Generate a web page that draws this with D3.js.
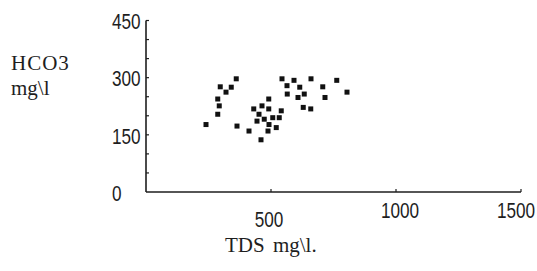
<!DOCTYPE html>
<html>
<head>
<meta charset="utf-8">
<script src="https://cdn.jsdelivr.net/npm/d3@7"></script>
<style>
  body { margin: 0; background: #fff; }
</style>
</head>
<body>
<svg id="chart" width="537" height="271"></svg>
<script>
// TDS (mg\l) and HCO3 (mg\l) of each sample
let tds = [240, 287, 293, 287, 297, 320, 341, 361, 364, 412, 431, 444, 452, 460, 464, 473, 491, 491, 492,
    488, 507, 521, 533, 541, 544, 564, 565, 592, 608, 615, 629, 633, 659, 660, 707, 716, 763, 804]
let hco3 = [177, 244, 226, 204, 276, 262, 275, 297, 173, 160, 218, 186, 204, 137, 226, 191, 244, 218, 177,
    160, 195, 169, 195, 213, 297, 279, 257, 293, 248, 275, 222, 257, 218, 297, 276, 248, 293, 262]
let xTickLabels = [500, 1000, 1500]
let yTickLabels = [0, 150, 300, 450]
let yMinorTicks = [50, 100, 150, 200, 250, 300, 350, 400, 450]

let svg = d3.select("#chart")
let ink = "#1e1e1e"
let numFont = "'Liberation Sans', Arial, sans-serif"
let textFont = "'Liberation Serif', 'DejaVu Serif', serif"

let x = d3.scaleLinear().domain([0, 1500]).range([146, 521])
let y = d3.scaleLinear().domain([0, 450]).range([192, 20.5])

// axis lines
svg.append("line")
    .attr("x1", x(0)).attr("x2", x(0))
    .attr("y1", y(450)).attr("y2", y(0))
    .style("stroke", ink).style("stroke-width", 1.6)
svg.append("line")
    .attr("x1", x(0)).attr("x2", x(1500))
    .attr("y1", y(0)).attr("y2", y(0))
    .style("stroke", ink).style("stroke-width", 1.6)

// small ticks, inside the plot
svg.selectAll(".yTick")
    .data(yMinorTicks)
    .enter()
    .append("line")
    .attr("class", "yTick")
    .attr("x1", x(0)).attr("x2", x(0) + 3)
    .attr("y1", d => y(d)).attr("y2", d => y(d))
    .style("stroke", ink).style("stroke-width", 1.2)
svg.selectAll(".xTick")
    .data(xTickLabels)
    .enter()
    .append("line")
    .attr("class", "xTick")
    .attr("x1", d => x(d)).attr("x2", d => x(d))
    .attr("y1", y(0)).attr("y2", y(0) - 3)
    .style("stroke", ink).style("stroke-width", 1.2)

// tick labels, squeezed to look like the narrow digits of the scan
svg.selectAll(".yLabel")
    .data(yTickLabels)
    .enter()
    .append("text")
    .attr("class", "yLabel")
    .text(d => d)
    .attr("transform", d => "translate(112," + y(d) + ") scale(0.78,1)")
    .attr("dy", "0.4em")
    .attr("text-anchor", "start")
    .style("fill", ink)
    .style("font-size", "22px")
    .style("font-family", numFont)

// the scan is a bit uneven, 500 sits lower than the others
svg.selectAll(".xLabel")
    .data(xTickLabels)
    .enter()
    .append("text")
    .attr("class", "xLabel")
    .text(d => d)
    .attr("transform", (d, i) => "translate(" + (x(d) - (i == 2 ? 5 : (i == 1 ? -4 : 2))) + ","
        + (y(0) + (i == 0 ? 35 : 26)) + ") scale(0.78,1)")
    .attr("text-anchor", "middle")
    .style("fill", ink)
    .style("font-size", "22px")
    .style("font-family", numFont)

// axis titles
svg.append("text")
    .text("HCO3")
    .attr("x", 11).attr("y", 70)
    .style("fill", ink)
    .style("font-size", "21px")
    .style("letter-spacing", "1px")
    .style("font-family", textFont)
svg.append("text")
    .text("mg\\l")
    .attr("x", 11).attr("y", 95)
    .style("fill", ink)
    .style("font-size", "21px")
    .style("font-family", textFont)
svg.append("text")
    .text("TDS mg\\l.")
    .attr("x", 225).attr("y", 252)
    .style("fill", ink)
    .style("font-size", "21px")
    .style("word-spacing", "3px")
    .style("font-family", textFont)

// samples
svg.selectAll(".sample")
    .data(tds)
    .enter()
    .append("rect")
    .attr("class", "sample")
    .attr("width", 5)
    .attr("height", 5)
    .attr("x", d => x(d) - 2.5)
    .attr("y", (d, i) => y(hco3[i]) - 2.5)
    .style("fill", "#111")
</script>
</body>
</html>
